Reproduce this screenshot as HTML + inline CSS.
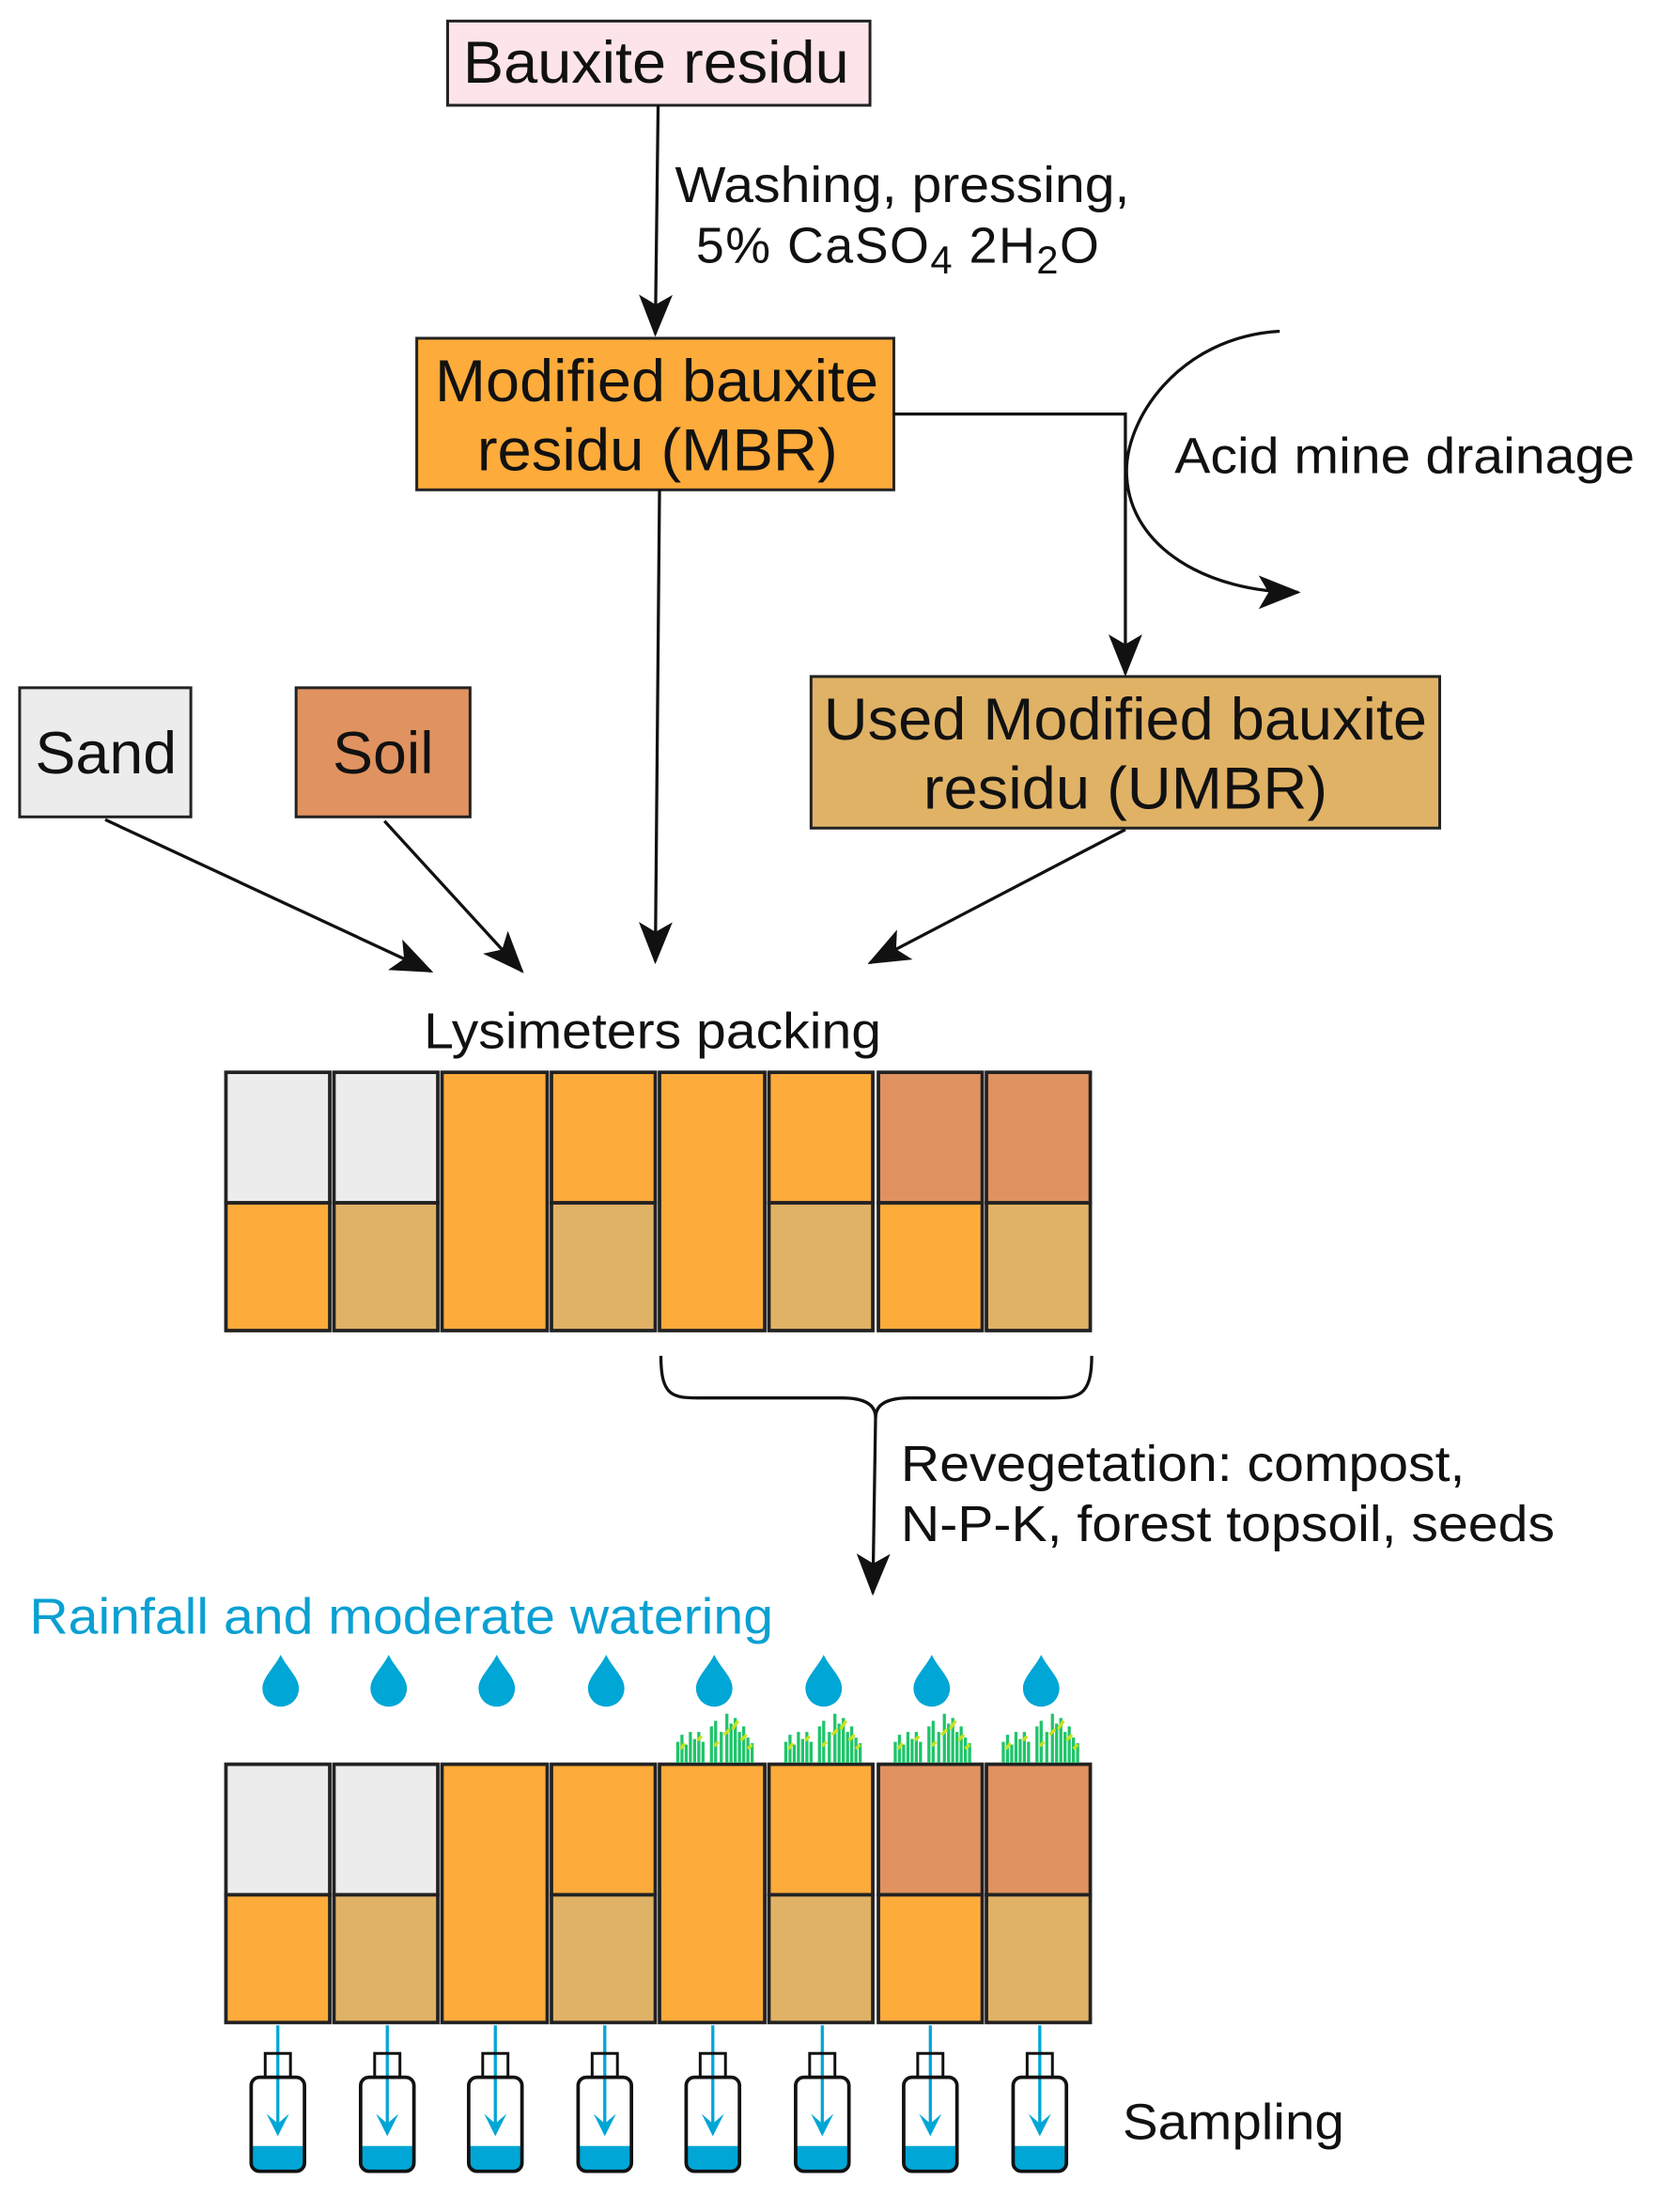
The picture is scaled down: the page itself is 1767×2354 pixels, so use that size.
<!DOCTYPE html>
<html><head><meta charset="utf-8"><style>html,body{margin:0;padding:0;background:#fff}svg{display:block}</style></head>
<body>
<svg width="1767" height="2354" viewBox="0 0 1183 1576" preserveAspectRatio="none" xmlns="http://www.w3.org/2000/svg" font-family="Liberation Sans, sans-serif">
<defs>
<marker id="ah2" markerWidth="30" markerHeight="30" refX="28" refY="15" orient="auto" markerUnits="userSpaceOnUse" viewBox="0 0 30 30"><path d="M0,3 L30,15 L0,27 L7,15 z" fill="#111"/></marker>
</defs>
<g stroke="#222" stroke-width="2">
<rect x="319" y="15" width="301" height="60" fill="#fde4e8"/>
<rect x="297" y="241" width="340" height="108" fill="#fdab3b"/>
<rect x="14" y="490" width="122" height="92" fill="#ececec"/>
<rect x="211" y="490" width="124" height="92" fill="#e09260"/>
<rect x="578" y="482" width="448" height="108" fill="#e0b266"/>
</g>
<g font-size="42" fill="#111" lengthAdjust="spacingAndGlyphs">
<text x="330" y="59" textLength="275" lengthAdjust="spacingAndGlyphs">Bauxite residu</text>
<text x="310" y="286" textLength="316" lengthAdjust="spacingAndGlyphs">Modified bauxite</text>
<text x="340" y="335" textLength="257" lengthAdjust="spacingAndGlyphs">residu (MBR)</text>
<text x="25" y="551" textLength="101" lengthAdjust="spacingAndGlyphs">Sand</text>
<text x="237" y="551" textLength="72" lengthAdjust="spacingAndGlyphs">Soil</text>
<text x="587" y="527" textLength="430" lengthAdjust="spacingAndGlyphs">Used Modified bauxite</text>
<text x="658" y="576" textLength="288" lengthAdjust="spacingAndGlyphs">residu (UMBR)</text>
</g>
<g font-size="36" fill="#111">
<text x="481" y="144" textLength="324" lengthAdjust="spacingAndGlyphs">Washing, pressing,</text>
<text x="496" y="187" letter-spacing="1">5% CaSO<tspan font-size="28" dy="8">4</tspan><tspan dy="-8"> 2H</tspan><tspan font-size="28" dy="8">2</tspan><tspan dy="-8">O</tspan></text>
<text x="837" y="337" textLength="328" lengthAdjust="spacingAndGlyphs">Acid mine drainage</text>
<text x="302" y="747" textLength="326" lengthAdjust="spacingAndGlyphs">Lysimeters packing</text>
<text x="642" y="1055" textLength="402" lengthAdjust="spacingAndGlyphs">Revegetation: compost,</text>
<text x="642" y="1098" textLength="466" lengthAdjust="spacingAndGlyphs">N-P-K, forest topsoil, seeds</text>
<text x="800" y="1524" textLength="158" lengthAdjust="spacingAndGlyphs">Sampling</text>
<text x="21" y="1164" fill="#0aa0d2" textLength="530" lengthAdjust="spacingAndGlyphs">Rainfall and moderate watering</text>
</g>
<g stroke="#111" stroke-width="2.2" fill="none">
<line x1="469" y1="75" x2="467" y2="238" marker-end="url(#ah2)"/>
<polyline points="637,295 802,295 802,480" marker-end="url(#ah2)"/>
<path d="M912,236 C840,240 800,300 803,340 C806,390 860,422 925,422" marker-end="url(#ah2)"/>
<line x1="470" y1="349" x2="467" y2="685" marker-end="url(#ah2)"/>
<line x1="75" y1="584" x2="307" y2="692" marker-end="url(#ah2)"/>
<line x1="274" y1="585" x2="372" y2="692" marker-end="url(#ah2)"/>
<line x1="802" y1="591" x2="620" y2="686" marker-end="url(#ah2)"/>
<path d="M471,966 C471,996 480,996 500,996 L600,996 C615,996 624,1000 624,1010 C624,1000 633,996 648,996 L748,996 C768,996 778,996 778,966"/>
<line x1="624" y1="1008" x2="622" y2="1135" marker-end="url(#ah2)"/>
</g>
<g id="lys" stroke="#222" stroke-width="2.5">
<rect x="161" y="764" width="74" height="93" fill="#ececec"/><rect x="161" y="857" width="74" height="91" fill="#fdab3b"/>
<rect x="238" y="764" width="74" height="93" fill="#ececec"/><rect x="238" y="857" width="74" height="91" fill="#e0b266"/>
<rect x="315" y="764" width="75" height="184" fill="#fdab3b"/>
<rect x="393" y="764" width="74" height="93" fill="#fdab3b"/><rect x="393" y="857" width="74" height="91" fill="#e0b266"/>
<rect x="470" y="764" width="75" height="184" fill="#fdab3b"/>
<rect x="548" y="764" width="74" height="93" fill="#fdab3b"/><rect x="548" y="857" width="74" height="91" fill="#e0b266"/>
<rect x="626" y="764" width="74" height="93" fill="#e09260"/><rect x="626" y="857" width="74" height="91" fill="#fdab3b"/>
<rect x="703" y="764" width="74" height="93" fill="#e09260"/><rect x="703" y="857" width="74" height="91" fill="#e0b266"/>
</g>
<use href="#lys" y="493"/>
<g id="drop" fill="#00a6d6">
<path d="M200,1179 C205,1189 213,1195 213,1203 A13,13 0 0 1 187,1203 C187,1195 195,1189 200,1179z"/>
</g>
<use href="#drop" x="77"/><use href="#drop" x="154"/><use href="#drop" x="232"/><use href="#drop" x="309"/><use href="#drop" x="387"/><use href="#drop" x="464"/><use href="#drop" x="542"/>
<g id="grass" stroke="#1fc46a" stroke-width="2.2">
<path d="M483,1256 v-15 M486,1256 v-20 M489,1256 v-13 M492,1256 v-22 M495,1256 v-17 M498,1256 v-22 M501,1256 v-15 M507,1256 v-26 M510,1256 v-30 M514,1256 v-22 M518,1256 v-35 M521,1256 v-28 M524,1256 v-32 M527,1256 v-22 M530,1256 v-26 M533,1256 v-18 M536,1256 v-14"/>
<path d="M485,1246 l3,-4 M497,1240 l3,-3 M509,1244 l3,-3 M516,1236 l4,-4 M522,1232 l4,-6 M528,1240 l4,-4 M533,1246 l3,-3" stroke="#c8e020"/>
</g>
<use href="#grass" x="77"/><use href="#grass" x="155"/><use href="#grass" x="232"/>
<g id="bot">
<line x1="198" y1="1443" x2="198" y2="1518" stroke="#00a6d6" stroke-width="2.2"/>
<path d="M190,1506 L198,1522 L206,1506 L198,1513z" fill="#00a6d6"/>
<path d="M180,1529 h36 v13 a5,5 0 0 1 -5,5 h-26 a5,5 0 0 1 -5,-5z" fill="#00a6d6"/>
<rect x="189" y="1463" width="18" height="17" fill="none" stroke="#111" stroke-width="2"/>
<rect x="179" y="1480" width="38" height="67" rx="6" fill="none" stroke="#111" stroke-width="2.5"/>
</g>
<use href="#bot" x="78"/><use href="#bot" x="155"/><use href="#bot" x="233"/><use href="#bot" x="310"/><use href="#bot" x="388"/><use href="#bot" x="465"/><use href="#bot" x="543"/>
</svg>
</body></html>
